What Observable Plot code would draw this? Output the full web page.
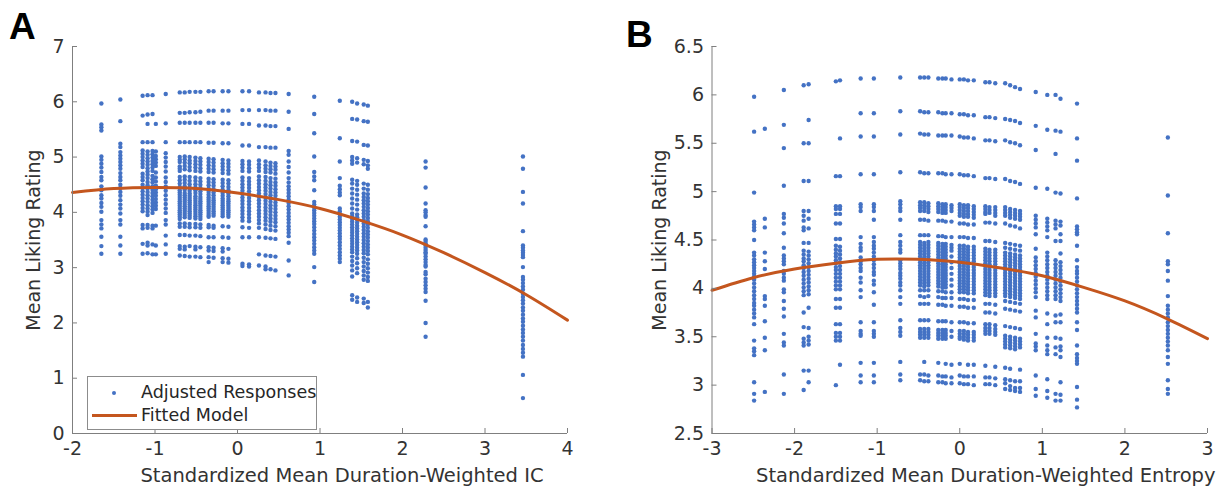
<!DOCTYPE html>
<html><head><meta charset="utf-8">
<script src="https://cdn.jsdelivr.net/npm/d3@7"></script>
<script src="https://cdn.jsdelivr.net/npm/@observablehq/plot@0.6"></script>
<style>
body{margin:0;background:#fff;}
#wrap{position:relative;width:1230px;height:493px;overflow:hidden;font-family:"DejaVu Sans",sans-serif;}
.panel{position:absolute;top:0;}
.letter{position:absolute;font-family:"Liberation Sans",Arial,sans-serif;font-weight:bold;font-size:37px;color:#000;line-height:1;}
.legend{position:absolute;left:87px;top:376px;width:228px;height:52px;border:1px solid #8c8c8c;background:#fff;font-size:17.5px;color:#262626;}
.legend .t{position:absolute;left:53px;white-space:nowrap;}
</style></head><body>
<div id="wrap">
  <div class="panel" id="pA" style="left:0"></div>
  <div class="panel" id="pB" style="left:615px"></div>
  <div class="letter" style="left:9px;top:8px">A</div>
  <div class="letter" style="left:626px;top:16px">B</div>
  <div class="legend">
    <div style="position:absolute;left:24px;top:14px;width:4px;height:4px;border-radius:2px;background:#4472C4"></div>
    <div class="t" style="top:5px">Adjusted Responses</div>
    <div style="position:absolute;left:4px;top:37px;width:45px;height:3px;background:#C4561E"></div>
    <div class="t" style="top:28px">Fitted Model</div>
  </div>
</div>
<script>
// ---------- Panel A data ----------
const aColX = [-1.65, -1.42, -1.15, -1.09, -1.03, -0.99, -0.87, -0.70, -0.64, -0.58, -0.51, -0.45, -0.35, -0.29, -0.18, -0.11, 0.06, 0.14, 0.26, 0.34, 0.40, 0.46, 0.62, 0.93, 1.24, 1.39, 1.45, 1.53, 1.58, 2.28, 3.46];
const aColY = [
 [5.97,5.59,5.54,5.48,5.01,4.95,4.88,4.81,4.73,4.64,4.58,4.47,4.40,4.31,4.25,4.17,4.10,4.01,3.86,3.78,3.71,3.56,3.39,3.25],
 [6.04,5.65,5.24,5.18,5.09,5.03,4.97,4.91,4.85,4.79,4.71,4.64,4.58,4.50,4.44,4.37,4.30,4.22,4.14,4.07,3.98,3.86,3.78,3.56,3.40,3.25],
 [6.11,5.75,5.27,5.12,5.06,5.00,4.94,4.88,4.82,4.70,4.64,4.58,4.50,4.44,4.38,4.32,4.26,4.20,4.14,4.08,4.02,3.77,3.71,3.43,3.25],
 [6.12,5.77,5.60,5.27,5.10,5.04,4.98,4.92,4.86,4.80,4.74,4.68,4.62,4.55,4.49,4.43,4.37,4.31,4.25,4.19,4.13,4.07,4.01,3.95,3.77,3.72,3.45,3.40,3.26],
 [6.12,5.78,5.27,5.11,5.05,4.99,4.93,4.87,4.81,4.75,4.66,4.60,4.54,4.47,4.41,4.35,4.29,4.23,4.17,4.11,4.05,3.99,3.76,3.71,3.42,3.24],
 [5.60,5.10,5.02,4.96,4.90,4.84,4.72,4.63,4.56,4.48,4.42,4.36,4.30,4.24,4.18,4.12,4.06,3.76,3.40,3.24],
 [6.14,5.61,5.27,5.07,4.99,4.91,4.83,4.74,4.63,4.55,4.47,4.39,4.31,4.23,4.15,4.07,3.99,3.86,3.78,3.58,3.42,3.25],
 [6.17,5.80,5.62,5.27,5.00,4.95,4.91,4.83,4.79,4.75,4.64,4.58,4.52,4.46,4.40,4.36,4.32,4.28,4.24,4.20,4.16,4.12,4.08,4.04,4.00,3.96,3.92,3.88,3.80,3.74,3.59,3.39,3.34,3.22],
 [6.17,5.80,5.62,5.27,5.01,4.96,4.90,4.84,4.78,4.65,4.59,4.53,4.47,4.41,4.35,4.31,4.27,4.23,4.19,4.15,4.11,4.07,4.03,3.99,3.95,3.91,3.80,3.74,3.59,3.38,3.33,3.21],
 [6.18,5.81,5.62,5.27,5.00,4.94,4.89,4.82,4.76,4.64,4.57,4.51,4.45,4.39,4.34,4.30,4.26,4.22,4.18,4.14,4.10,4.06,4.02,3.98,3.94,3.90,3.79,3.73,3.58,3.39,3.20],
 [6.18,5.81,5.62,5.27,4.99,4.93,4.87,4.81,4.75,4.63,4.57,4.51,4.45,4.40,4.35,4.29,4.25,4.21,4.17,4.13,4.09,4.05,4.01,3.97,3.93,3.89,3.79,3.73,3.58,3.38,3.33,3.20],
 [6.18,5.82,5.62,5.27,4.98,4.92,4.86,4.80,4.74,4.62,4.56,4.50,4.44,4.38,4.33,4.28,4.24,4.20,4.16,4.12,4.08,4.04,4.00,3.96,3.92,3.88,3.78,3.72,3.57,3.37,3.19],
 [6.19,5.84,5.62,5.26,4.97,4.91,4.85,4.79,4.73,4.61,4.55,4.49,4.43,4.37,4.32,4.27,4.23,4.19,4.15,4.11,4.07,4.03,3.99,3.95,3.92,3.77,3.73,3.55,3.37,3.31,3.19,3.10],
 [6.19,5.84,5.62,5.26,4.96,4.90,4.84,4.78,4.72,4.60,4.54,4.48,4.42,4.36,4.31,4.26,4.22,4.18,4.14,4.10,4.06,4.02,3.98,3.94,3.76,3.72,3.55,3.36,3.30,3.18],
 [6.19,5.84,5.61,5.25,4.95,4.89,4.83,4.77,4.71,4.59,4.53,4.47,4.41,4.35,4.30,4.25,4.21,4.17,4.13,4.09,4.05,4.01,3.97,3.93,3.75,3.55,3.35,3.29,3.17,3.10],
 [6.19,5.84,5.61,5.25,4.94,4.88,4.82,4.76,4.70,4.58,4.52,4.46,4.40,4.34,4.29,4.24,4.20,4.16,4.12,4.08,4.04,4.00,3.96,3.92,3.74,3.54,3.34,3.16,3.09],
 [6.19,5.85,5.60,5.21,4.93,4.87,4.81,4.75,4.63,4.57,4.51,4.45,4.39,4.33,4.27,4.21,4.15,4.09,4.03,3.97,3.91,3.85,3.73,3.55,3.07,3.03],
 [6.19,5.85,5.60,5.21,4.92,4.86,4.80,4.74,4.62,4.56,4.50,4.44,4.38,4.32,4.26,4.20,4.14,4.08,4.02,3.96,3.90,3.84,3.72,3.55,3.06,3.02],
 [6.17,5.85,5.57,5.18,4.94,4.87,4.81,4.75,4.65,4.58,4.52,4.46,4.40,4.34,4.28,4.22,4.16,4.10,4.04,3.98,3.92,3.86,3.80,3.72,3.55,3.24,3.04],
 [6.17,5.85,5.57,5.18,4.92,4.85,4.79,4.73,4.64,4.57,4.51,4.45,4.39,4.33,4.27,4.21,4.15,4.09,4.03,3.97,3.91,3.85,3.78,3.70,3.54,3.22,3.02,2.97],
 [6.16,5.84,5.56,5.17,4.90,4.84,4.78,4.72,4.62,4.55,4.49,4.43,4.37,4.31,4.25,4.19,4.13,4.07,4.01,3.95,3.89,3.83,3.76,3.68,3.53,3.21,2.97],
 [6.16,5.84,5.56,5.17,4.89,4.83,4.77,4.70,4.61,4.54,4.48,4.42,4.36,4.30,4.24,4.18,4.12,4.06,4.00,3.94,3.88,3.82,3.75,3.67,3.52,3.20,2.95],
 [6.14,5.82,5.51,5.11,5.04,4.92,4.82,4.72,4.62,4.54,4.47,4.41,4.35,4.29,4.23,4.17,4.11,4.05,3.99,3.93,3.87,3.81,3.75,3.69,3.63,3.57,3.45,3.13,2.86],
 [6.09,5.78,5.43,5.01,4.73,4.65,4.58,4.40,4.19,4.14,4.09,4.04,3.99,3.94,3.89,3.84,3.79,3.73,3.67,3.61,3.55,3.49,3.43,3.37,3.31,3.25,3.01,2.74],
 [6.02,5.34,4.92,4.62,4.48,4.42,4.36,4.31,4.07,4.02,3.97,3.92,3.87,3.82,3.77,3.72,3.67,3.62,3.57,3.52,3.46,3.40,3.34,3.28,3.22,3.16,3.10],
 [6.00,5.69,5.29,5.00,4.94,4.88,4.59,4.52,4.43,4.34,4.25,4.16,4.07,3.98,3.93,3.88,3.83,3.78,3.73,3.68,3.63,3.58,3.53,3.48,3.43,3.38,3.33,3.28,3.20,3.12,3.04,2.95,2.84,2.50,2.42],
 [5.97,5.68,5.28,4.98,4.90,4.57,4.50,4.41,4.32,4.23,4.14,4.05,3.96,3.91,3.86,3.81,3.76,3.71,3.66,3.61,3.56,3.51,3.46,3.41,3.36,3.31,3.25,3.17,3.08,2.99,2.90,2.46,2.38],
 [5.95,5.65,5.22,4.95,4.87,4.52,4.43,4.34,4.28,4.22,4.16,4.10,4.04,3.98,3.92,3.86,3.80,3.74,3.68,3.62,3.56,3.50,3.44,3.38,3.32,3.26,3.18,3.10,3.02,2.94,2.86,2.78,2.44,2.36],
 [5.93,5.64,5.21,4.93,4.85,4.79,4.50,4.41,4.33,4.26,4.20,4.14,4.08,4.02,3.96,3.90,3.84,3.78,3.72,3.66,3.60,3.54,3.48,3.42,3.36,3.30,3.24,3.15,3.07,2.99,2.91,2.83,2.76,2.38,2.28],
 [4.92,4.81,4.45,4.16,4.04,4.00,3.95,3.92,3.75,3.51,3.48,3.44,3.40,3.36,3.32,3.28,3.25,3.20,3.15,3.10,3.05,3.02,2.92,2.88,2.80,2.74,2.68,2.62,2.56,2.40,2.00,1.75],
 [5.01,4.79,4.37,4.16,3.66,3.40,3.36,3.31,3.27,3.23,3.19,3.01,2.83,2.78,2.72,2.66,2.60,2.53,2.47,2.41,2.35,2.28,2.22,2.15,2.08,2.02,1.95,1.88,1.82,1.75,1.68,1.60,1.53,1.46,1.39,1.06,0.64]
];
const aFitX = [-2, -1.5, -1, -0.5, 0, 0.5, 1, 1.5, 2, 2.5, 3, 3.5, 4];
const aFitY = [4.36, 4.43, 4.45, 4.43, 4.35, 4.23, 4.07, 3.85, 3.59, 3.27, 2.91, 2.51, 2.05];
const aXTicks = [-2, -1, 0, 1, 2, 3, 4];
const aYTicks = [0, 1, 2, 3, 4, 5, 6, 7];

// ---------- Panel B data ----------
const bColX = [-2.49, -2.36, -2.13, -1.89, -1.83, -1.50, -1.45, -1.20, -1.04, -0.72, -0.48, -0.43, -0.38, -0.26, -0.21, -0.17, -0.10, 0.00, 0.05, 0.10, 0.17, 0.31, 0.36, 0.43, 0.55, 0.61, 0.67, 0.73, 0.92, 1.06, 1.16, 1.22, 1.42, 2.52];
const bColY = [
 [5.98,5.62,4.99,4.69,4.66,4.63,4.60,4.50,4.37,4.34,4.30,4.27,4.24,4.21,4.18,4.15,4.12,4.09,4.05,4.01,3.97,3.93,3.89,3.85,3.82,3.78,3.74,3.70,3.63,3.46,3.38,3.35,3.31,3.03,2.91,2.84],
 [5.65,4.72,4.63,4.37,4.28,4.20,3.92,3.89,3.82,3.66,3.49,3.36,2.93],
 [6.05,5.69,5.45,5.06,4.77,4.73,4.67,4.57,4.42,4.34,4.31,4.28,4.25,4.18,4.15,4.11,4.08,3.99,3.96,3.87,3.79,3.71,3.53,3.44,3.41,3.11,2.91],
 [6.10,5.50,5.11,4.80,4.75,4.70,4.63,4.60,4.47,4.39,4.35,4.31,4.28,4.24,4.21,4.17,4.13,4.09,4.05,4.01,3.97,3.93,3.75,3.60,3.48,3.44,3.41,3.15,2.95],
 [6.11,5.74,5.50,5.11,4.80,4.72,4.62,4.47,4.38,4.34,4.30,4.26,4.22,4.18,4.14,4.10,4.06,4.02,3.98,3.94,3.80,3.59,3.50,3.46,3.42,3.15,3.03],
 [6.14,5.16,4.85,4.82,4.77,4.67,4.51,4.44,4.40,4.36,4.33,4.29,4.26,4.22,4.19,4.15,4.11,4.07,4.03,3.99,3.89,3.80,3.63,3.54,3.50,3.46,3.00],
 [6.15,5.55,5.16,4.85,4.82,4.77,4.67,4.51,4.43,4.39,4.35,4.31,4.27,4.23,4.19,4.15,4.11,4.07,4.03,3.99,3.89,3.80,3.63,3.54,3.50,3.46,3.21],
 [6.17,5.81,5.57,5.18,4.87,4.84,4.80,4.53,4.46,4.42,4.39,4.32,4.28,4.25,4.21,4.18,4.11,4.06,3.98,3.91,3.65,3.56,3.53,3.51,3.23,3.10,3.03],
 [6.17,5.81,5.57,5.18,4.87,4.84,4.80,4.71,4.53,4.48,4.44,4.41,4.37,4.33,4.29,4.25,4.21,4.17,4.14,4.08,4.04,3.96,3.83,3.65,3.56,3.53,3.50,3.23,3.10,3.03],
 [6.18,5.83,5.59,5.20,4.90,4.87,4.83,4.80,4.71,4.55,4.48,4.44,4.40,4.37,4.29,4.26,4.23,4.20,4.16,4.13,4.10,4.06,4.03,3.98,3.91,3.84,3.67,3.59,3.55,3.51,3.24,3.11,3.05],
 [6.18,5.83,5.60,5.20,4.89,4.86,4.83,4.80,4.71,4.55,4.48,4.45,4.42,4.39,4.36,4.33,4.30,4.27,4.24,4.21,4.18,4.15,4.12,4.09,4.06,4.03,3.98,3.92,3.84,3.67,3.58,3.55,3.52,3.49,3.11,3.05],
 [6.18,5.82,5.59,5.19,4.89,4.86,4.83,4.80,4.71,4.55,4.47,4.44,4.41,4.38,4.35,4.32,4.29,4.26,4.23,4.20,4.17,4.14,4.11,4.08,4.05,4.02,3.98,3.91,3.84,3.67,3.58,3.55,3.52,3.49,3.24,3.11,3.04],
 [6.18,5.82,5.59,5.19,4.88,4.85,4.82,4.79,4.70,4.55,4.48,4.45,4.42,4.39,4.36,4.33,4.30,4.27,4.24,4.21,4.18,4.15,4.12,4.09,4.06,4.03,3.98,3.92,3.84,3.67,3.58,3.55,3.52,3.49,3.10,3.04],
 [6.17,5.82,5.58,5.19,4.88,4.85,4.82,4.79,4.70,4.54,4.47,4.44,4.41,4.38,4.35,4.32,4.29,4.26,4.23,4.20,4.17,4.14,4.11,4.08,4.05,4.02,3.97,3.91,3.83,3.66,3.57,3.54,3.51,3.48,3.23,3.10,3.03],
 [6.17,5.81,5.58,5.19,4.87,4.84,4.81,4.78,4.70,4.54,4.46,4.43,4.40,4.37,4.34,4.31,4.28,4.25,4.22,4.19,4.16,4.13,4.10,4.07,4.04,4.01,3.97,3.90,3.83,3.66,3.57,3.54,3.51,3.48,3.09,3.03],
 [6.17,5.81,5.58,5.18,4.87,4.84,4.81,4.78,4.69,4.53,4.46,4.43,4.40,4.37,4.34,4.31,4.28,4.25,4.22,4.19,4.16,4.13,4.10,4.07,4.04,4.01,3.96,3.90,3.82,3.66,3.57,3.54,3.51,3.48,3.22,3.09,3.02],
 [6.16,5.81,5.58,5.18,4.86,4.83,4.80,4.69,4.53,4.45,4.42,4.39,4.33,4.27,4.21,4.15,4.09,4.03,3.96,3.90,3.82,3.65,3.56,3.50,3.21,3.08,3.02],
 [6.16,5.80,5.57,5.18,4.87,4.84,4.81,4.78,4.75,4.67,4.53,4.44,4.41,4.38,4.35,4.32,4.29,4.26,4.23,4.20,4.17,4.14,4.11,4.08,4.05,4.02,3.99,3.96,3.89,3.81,3.65,3.56,3.53,3.50,3.48,3.22,3.10,3.02],
 [6.16,5.80,5.56,5.17,4.86,4.83,4.80,4.77,4.74,4.67,4.53,4.44,4.41,4.38,4.35,4.32,4.29,4.26,4.23,4.20,4.17,4.14,4.11,4.08,4.05,4.02,3.99,3.96,3.89,3.81,3.65,3.56,3.53,3.50,3.47,3.09,3.01],
 [6.15,5.79,5.56,5.17,4.86,4.83,4.80,4.77,4.74,4.66,4.52,4.43,4.40,4.37,4.34,4.31,4.28,4.25,4.22,4.19,4.16,4.13,4.10,4.07,4.04,4.01,3.98,3.95,3.88,3.80,3.64,3.55,3.52,3.49,3.46,3.21,3.09,3.01],
 [6.15,5.79,5.55,5.16,4.85,4.82,4.79,4.76,4.73,4.66,4.52,4.43,4.40,4.37,4.34,4.31,4.28,4.25,4.22,4.19,4.16,4.13,4.10,4.07,4.04,4.01,3.98,3.95,3.88,3.80,3.64,3.55,3.52,3.49,3.46,3.21,3.09,3.00],
 [6.13,5.77,5.53,5.14,4.85,4.82,4.79,4.77,4.68,4.49,4.41,4.38,4.35,4.32,4.29,4.26,4.23,4.20,4.17,4.14,4.11,4.08,4.05,4.02,3.99,3.96,3.93,3.84,3.75,3.63,3.59,3.56,3.53,3.20,3.08,3.01],
 [6.13,5.77,5.53,5.14,4.84,4.81,4.78,4.68,4.49,4.40,4.37,4.34,4.31,4.28,4.25,4.22,4.19,4.16,4.13,4.10,4.07,4.04,4.01,3.98,3.95,3.92,3.84,3.75,3.63,3.59,3.56,3.53,3.08,3.01],
 [6.12,5.76,5.52,5.13,4.84,4.81,4.78,4.75,4.67,4.48,4.40,4.37,4.34,4.31,4.28,4.25,4.22,4.19,4.16,4.13,4.10,4.07,4.04,4.01,3.98,3.95,3.92,3.83,3.74,3.62,3.58,3.55,3.52,3.19,3.07,3.00],
 [6.12,5.75,5.53,5.13,4.84,4.81,4.78,4.75,4.67,4.47,4.42,4.37,4.34,4.31,4.28,4.25,4.22,4.19,4.16,4.13,4.10,4.07,4.04,4.01,3.98,3.95,3.92,3.87,3.79,3.61,3.51,3.48,3.45,3.42,3.39,3.18,3.06,3.02,2.96],
 [6.10,5.74,5.51,5.11,4.82,4.79,4.76,4.73,4.65,4.46,4.41,4.36,4.33,4.30,4.27,4.24,4.21,4.18,4.15,4.12,4.09,4.06,4.03,4.00,3.97,3.94,3.91,3.86,3.78,3.60,3.50,3.47,3.44,3.41,3.38,3.17,3.05,2.99,2.95],
 [6.08,5.73,5.50,5.10,4.81,4.78,4.75,4.72,4.64,4.45,4.40,4.35,4.32,4.29,4.26,4.23,4.20,4.17,4.14,4.11,4.08,4.05,4.02,3.99,3.96,3.93,3.90,3.85,3.77,3.59,3.49,3.46,3.43,3.40,3.37,3.04,2.97,2.94],
 [6.06,5.71,5.48,5.08,4.80,4.77,4.74,4.71,4.62,4.44,4.39,4.34,4.31,4.28,4.25,4.22,4.19,4.16,4.13,4.10,4.07,4.04,4.01,3.98,3.95,3.92,3.89,3.84,3.76,3.58,3.48,3.45,3.42,3.39,3.16,3.04,2.97,2.93],
 [6.03,5.68,5.43,5.04,4.75,4.71,4.67,4.63,4.56,4.41,4.32,4.28,4.24,4.20,4.16,4.12,4.08,4.04,4.00,3.96,3.91,3.77,3.70,3.53,3.43,3.40,3.36,3.10,2.96,2.89],
 [6.00,5.64,5.03,4.72,4.68,4.64,4.60,4.53,4.37,4.33,4.29,4.25,4.21,4.17,4.13,4.09,4.05,4.01,3.97,3.93,3.89,3.74,3.63,3.49,3.41,3.36,3.32,3.06,2.94,2.87],
 [6.00,5.63,5.39,4.99,4.70,4.66,4.62,4.49,4.29,4.25,4.21,4.17,4.13,4.09,4.05,4.01,3.97,3.93,3.89,3.72,3.65,3.49,3.39,3.32,2.91,2.84],
 [5.96,5.62,4.98,4.69,4.65,4.56,4.49,4.36,4.27,4.23,4.19,4.15,4.11,4.07,4.03,3.99,3.95,3.91,3.87,3.73,3.65,3.48,3.40,3.36,3.29,3.03,2.90,2.84],
 [5.91,5.55,5.32,4.93,4.64,4.61,4.58,4.56,4.44,4.29,4.22,4.18,4.15,4.11,4.07,4.03,3.99,3.95,3.91,3.87,3.83,3.79,3.75,3.65,3.57,3.41,3.32,3.28,3.25,3.22,2.98,2.85,2.77],
 [5.56,4.96,4.57,4.28,4.25,4.18,4.08,3.92,3.82,3.78,3.74,3.70,3.65,3.61,3.57,3.53,3.49,3.45,3.41,3.36,3.29,3.22,3.05,2.96,2.91]
];
const bFitX = [-3, -2.5, -2, -1.5, -1, -0.5, 0, 0.5, 1, 1.5, 2, 2.5, 3];
const bFitY = [3.98, 4.11, 4.20, 4.26, 4.30, 4.30, 4.27, 4.21, 4.13, 4.01, 3.87, 3.69, 3.48];
const bXTicks = [-3, -2, -1, 0, 1, 2, 3];
const bYTicks = [2.5, 3, 3.5, 4, 4.5, 5, 5.5, 6, 6.5];

const dotColor = "#4472C4";
const lineColor = "#C4561E";
const axisColor = "#7f7f7f";
const textColor = "#333333";

function toPoints(xs, ys) { return xs.flatMap((x, i) => ys[i].map(y => ({x, y}))); }
function toLine(xs, ys) { return xs.map((x, i) => ({x, y: ys[i]})); }

function panel({pts, fit, xDomain, yDomain, xTicks, yTicks, xLabel, marginLeft, marginRight, xLabelDx, yLabelOffset}) {
  return Plot.plot({
    width: 615, height: 493,
    marginTop: 46, marginBottom: 60, marginLeft, marginRight,
    style: {fontFamily: "'DejaVu Sans', sans-serif", fontSize: "19px", color: textColor, background: "white"},
    x: {domain: xDomain},
    y: {domain: yDomain},
    marks: [
      Plot.dot(pts, {x: "x", y: "y", r: 2.2, fill: dotColor, stroke: "none"}),
      Plot.line(fit, {x: "x", y: "y", stroke: lineColor, strokeWidth: 3, curve: "natural"}),
      Plot.ruleX([xDomain[0]], {stroke: axisColor}),
      Plot.ruleY([yDomain[0]], {stroke: axisColor}),
      Plot.axisX(xTicks, {tickSize: -5, tickPadding: 13, stroke: axisColor, fill: textColor, tickFormat: d => String(d), label: null}),
      Plot.axisY(yTicks, {tickSize: -5, tickPadding: 13, stroke: axisColor, fill: textColor, tickFormat: d => String(d), label: "Mean Liking Rating", labelAnchor: "center", labelArrow: "none", labelOffset: yLabelOffset}),
      Plot.text([xLabel], {frameAnchor: "bottom", dy: 48, dx: xLabelDx, fill: textColor, fontSize: 19.5})
    ]
  });
}

document.getElementById("pA").appendChild(panel({
  pts: toPoints(aColX, aColY), fit: toLine(aFitX, aFitY),
  xDomain: [-2, 4], yDomain: [0, 7], xTicks: aXTicks, yTicks: aYTicks,
  xLabel: "Standardized Mean Duration-Weighted IC",
  marginLeft: 72, marginRight: 48, xLabelDx: 22, yLabelOffset: 46
}));
document.getElementById("pB").appendChild(panel({
  pts: toPoints(bColX, bColY), fit: toLine(bFitX, bFitY),
  xDomain: [-3, 3], yDomain: [2.5, 6.5], xTicks: bXTicks, yTicks: bYTicks,
  xLabel: "Standardized Mean Duration-Weighted Entropy",
  marginLeft: 96.5, marginRight: 23, xLabelDx: 26, yLabelOffset: 60
}));
</script>
</body></html>
